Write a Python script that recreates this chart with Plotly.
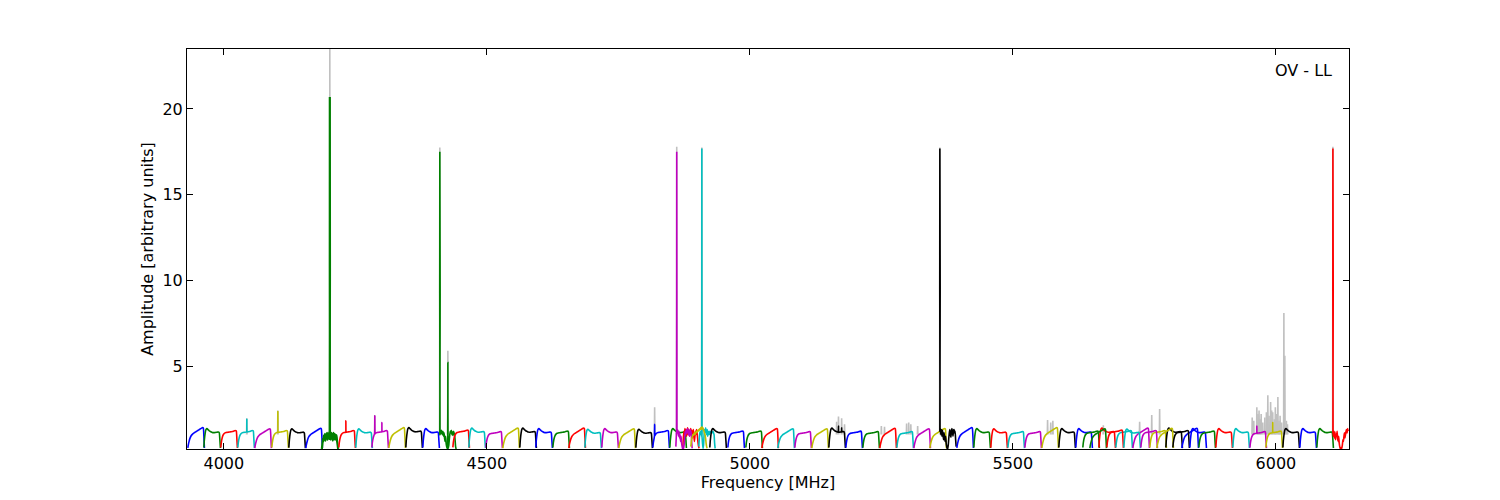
import plotly.graph_objects as go

# ---------------- data ----------------
# start frequency [MHz] of each subband, in plotting order (colours cycle b,g,r,c,m,y,k)
SUB_START = [3931.6, 3962.0, 3994.3, 4026.6, 4058.9, 4091.3, 4123.6, 4155.9, 4186.3, 4218.6,
             4250.9, 4281.4, 4313.7, 4346.0, 4378.3, 4410.6, 4435.4, 4465.8, 4498.1, 4530.4,
             4562.7, 4593.1, 4625.5, 4655.9, 4686.3, 4718.6, 4750.9, 4783.3, 4815.6, 4847.9,
             4872.6, 4903.0, 4859.3, 4887.8, 4923.9, 4958.2, 4992.4, 5022.8, 5053.2, 5085.5,
             5117.8, 5150.2, 5182.5, 5214.8, 5247.1, 5279.5, 5311.8, 5342.2, 5361.2, 5393.5,
             5425.8, 5458.1, 5490.5, 5522.8, 5555.1, 5587.4, 5619.7, 5633.0, 5663.5, 5695.8,
             5728.1, 5760.4, 5790.8, 5821.3, 5646.4, 5678.7, 5711.0, 5743.3, 5773.7, 5804.1,
             5836.5, 5853.6, 5885.9, 5918.2, 5950.6, 5981.0, 6013.3, 6045.6, 6077.9, 6108.4]

# bandpass shape per subband: 0 = rising to the right, 1 = flat, 2 = peak on the left, -1 = own values
SUB_SHAPE = [0, 2, 1, 1, 0, 1, 2, 0, -1, 1,
             2, 1, 0, 2, 2, -1, 1, 2, 1, 0,
             2, 2, 1, 0, 2, 2, 0, 2, 1, 2,
             -1, -1, -1, -1, 2, 1, 1, 0, 0, 1,
             0, 2, 1, 1, 0, 1, 0, 0, -1, 0,
             2, 2, 1, 1, 0, 2, 2, 1, 2, 1,
             0, 1, 2, 0, 0, 1, 2, 1, 0, 1,
             2, 1, 2, 2, 1, 1, 2, 2, 2, -1]

# level of each subband
SUB_SCALE = [1.0, 0.98, 1.0, 1.0, 0.95, 1.0, 0.97, 0.97, 1.0, 1.0,
             0.97, 1.0, 1.0, 1.02, 0.98, 1.0, 1.02, 1.0, 0.95, 0.98,
             1.0, 0.98, 0.98, 0.98, 0.95, 0.98, 0.95, 0.95, 1.0, 0.98,
             1.0, 1.0, 1.0, 1.0, 0.98, 0.98, 0.98, 0.96, 0.95, 0.95,
             0.95, 1.0, 0.97, 0.95, 0.97, 0.95, 0.95, 0.96, 1.0, 1.0,
             0.98, 0.97, 0.95, 0.95, 1.0, 0.98, 0.98, 0.98, 1.0, 1.0,
             0.98, 1.0, 1.0, 0.97, 0.95, 1.02, 0.96, 1.0, 0.97, 1.0,
             0.98, 0.98, 0.98, 0.98, 0.95, 0.98, 0.98, 0.98, 0.98, 1.0]

# generic bandpass templates (offsets in MHz from subband start)
TPL_OFFSET = [0, 1, 2.5, 4, 6, 8, 10, 12, 14, 16, 18, 20, 22, 24, 26, 28, 29.5, 30.5, 31.5]
SHAPE_RISE = [0.22, 0.42, 0.62, 0.78, 0.92, 1.0, 1.06, 1.1, 1.14, 1.18, 1.22, 1.26, 1.3, 1.34, 1.38, 1.41, 1.38, 0.9, 0.22]
SHAPE_FLAT = [0.25, 0.55, 0.8, 0.95, 1.05, 1.1, 1.12, 1.13, 1.14, 1.15, 1.16, 1.17, 1.18, 1.2, 1.22, 1.24, 1.2, 0.75, 0.22]
SHAPE_LEFT = [0.25, 0.7, 1.1, 1.32, 1.38, 1.32, 1.26, 1.21, 1.18, 1.15, 1.14, 1.14, 1.15, 1.16, 1.17, 1.18, 1.12, 0.7, 0.22]

# noisy subbands, 1 MHz channels from the subband start
NOISY_08 = [0.16, 0.4, 0.75, 0.6, 0.95, 0.7, 1.05, 0.65, 1.0, 0.8, 1.1, 0.7, 1.0, 0.85, 1.15, 0.75,
            1.05, 0.7, 1.1, 0.8, 1.0, 0.65, 1.1, 0.75, 1.05, 0.7, 1.0, 0.8, 0.95, 0.6, 0.4, 0.16]
NOISY_15 = [1.0, 1.2, 1.05, 1.25, 1.1, 1.0, 1.2, 0.9, 1.1, 0.8, 0.6, 0.9, 0.5, 0.3, 0.2, 0.25,
            0.2, 0.35, 0.7, 1.0, 1.2, 1.1, 1.25, 1.0, 1.15, 0.95, 1.2, 1.1, 1.0, 0.7, 0.3, 0.16]
NOISY_30 = [0.3, 0.8, 1.2, 1.0, 1.35, 1.1, 1.3, 0.9, 1.2, 1.4, 1.0, 1.3, 1.1, 0.9, 1.2, 1.35,
            1.0, 1.25, 0.8, 1.1, 1.3, 0.9, 0.6, 0.9, 1.2, 1.0, 1.3, 1.1, 0.8, 0.5, 0.3, 0.2]
NOISY_31 = [0.3, 0.8, 1.1, 1.2, 1.0, 1.1, 0.9, 0.5, 0.2, 0.4, 1.0, 1.3, 1.1, 1.4, 1.2, 1.0,
            1.3, 0.9, 1.2, 1.1, 1.0, 1.2, 1.15, 1.1, 1.2, 1.1, 1.15, 1.2, 1.1, 1.0, 0.5, 0.2]
NOISY_32 = [0.3, 1.0, 1.3, 1.1, 1.25, 0.9, 1.2, 0.8, 1.0, 0.6, 0.9, 0.5, 0.3, 0.16, 0.3, 0.2,
            0.5, 0.9, 1.2, 1.0, 1.3, 1.1, 1.2, 1.35, 1.0, 1.2, 0.9, 1.3, 1.1, 1.2, 0.6, 0.2]
NOISY_33 = [0.3, 0.6, 0.8, 0.9, 1.0, 0.95, 1.05, 1.1, 1.0, 1.15, 1.1, 1.2, 1.15, 1.25, 1.2, 1.3,
            1.25, 1.35, 1.3, 1.4, 1.3, 1.45, 1.35, 1.4, 1.3, 1.2, 1.1, 1.0, 0.8, 0.5, 0.3, 0.2]
NOISY_48 = [1.2, 1.35, 1.0, 1.3, 0.9, 1.25, 1.0, 0.7, 1.1, 0.8, 0.6, 0.9, 0.5, 0.3, 0.16, 0.2,
            0.4, 0.8, 1.1, 1.3, 1.0, 0.85, 1.2, 1.35, 1.1, 0.9, 1.25, 1.3, 1.1, 1.2, 0.7, 0.3]
NOISY_79 = [1.1, 0.9, 1.2, 0.8, 1.15, 0.7, 1.0, 0.9, 1.2, 0.75, 0.6, 0.9, 0.5, 0.3, 0.2, 0.16,
            0.25, 0.2, 0.4, 0.7, 0.6, 0.9, 1.1, 0.8, 1.0, 1.2, 1.3, 1.1, 1.35, 1.2]
NOISY = {8: NOISY_08, 15: NOISY_15, 30: NOISY_30, 31: NOISY_31, 32: NOISY_32,
         33: NOISY_33, 48: NOISY_48, 79: NOISY_79}

# spikes drawn in the subband colour: subband index, frequency [MHz], amplitude
SPIKE_SUB = [8, 15, 15, 32, 31, 48, 79, 3, 5, 9, 11, 11, 28, 41, 41, 74, 75]
SPIKE_FREQ = [4201.5, 4410.6, 4425.9, 4861.0, 4908.7, 5361.2, 6108.4, 4043.7, 4102.7, 4232.0,
              4287.0, 4300.5, 4819.0, 5168.5, 5174.5, 5963.8, 5994.0]
SPIKE_AMP = [20.7, 17.5, 5.2, 17.5, 17.7, 17.7, 17.7, 1.9, 2.35, 1.8,
             2.1, 1.7, 1.6, 1.5, 1.4, 1.5, 1.7]

# raw (grey) spikes behind the bandpass-corrected data
GREY_FREQ = [4043.7, 4102.7, 4201.5, 4287.0, 4410.6, 4425.9, 4819.0, 4861.0, 4908.7, 5165.0,
             5168.5, 5174.5, 5180.0, 5250.0, 5256.0, 5298.0, 5302.0, 5306.0, 5319.0, 5361.2,
             5566.0, 5572.0, 5576.0, 5672.0, 5741.0, 5764.0, 5779.0, 5955.0, 5958.0, 5963.8,
             5966.0, 5968.0, 5970.0, 5972.0, 5975.0, 5979.0, 5982.0, 5984.7, 5987.0, 5990.0,
             5992.0, 5994.0, 5997.0, 5999.0, 6001.0, 6003.8, 6006.0, 6008.0, 6011.0, 6015.2,
             6017.0, 6020.0, 6022.0, 6108.4]
GREY_AMP = [1.95, 2.4, 23.5, 2.15, 17.75, 5.9, 2.6, 17.8, 17.75, 1.75,
            2.05, 1.95, 1.6, 1.5, 1.45, 1.65, 1.7, 1.6, 1.5, 17.75,
            1.85, 1.7, 1.8, 1.55, 1.75, 2.15, 2.5, 2.0, 1.8, 2.6,
            2.2, 2.4, 1.9, 2.2, 1.7, 2.0, 2.3, 3.3, 2.1, 2.9,
            2.4, 2.3, 1.9, 2.6, 2.2, 3.2, 1.8, 2.1, 1.7, 8.1,
            5.6, 1.8, 1.6, 17.8]

COLORS = ["#0000ff", "#008000", "#ff0000", "#00bfbf", "#bf00bf", "#bfbf00", "#000000"]
GREY = "#c0c0c0"

X_RANGE = [3930, 6139]
Y_RANGE = [0.16, 23.5]

# ---------------- figure ----------------
fig = go.Figure()

# grey raw spikes
gx, gy = [], []
for f, a in zip(GREY_FREQ, GREY_AMP):
    gx += [f - 0.5, f, f + 0.5, None]
    gy += [1.0, a, 1.0, None]
fig.add_trace(go.Scatter(x=gx, y=gy, mode="lines", line=dict(color=GREY, width=1.6),
                         hoverinfo="skip", showlegend=False))

templates = {0: SHAPE_RISE, 1: SHAPE_FLAT, 2: SHAPE_LEFT}
for i, start in enumerate(SUB_START):
    if SUB_SHAPE[i] == -1:
        vals = NOISY[i]
        offs = list(range(len(vals)))
        pts = [(start + o, v) for o, v in zip(offs, vals)]
    else:
        tpl = templates[SUB_SHAPE[i]]
        pts = [(start + o, v * SUB_SCALE[i]) for o, v in zip(TPL_OFFSET, tpl)]
    for s, f, a in zip(SPIKE_SUB, SPIKE_FREQ, SPIKE_AMP):
        if s == i:
            base = min(pts, key=lambda p: abs(p[0] - f))[1]
            pts += [(f - 0.3, base), (f, a), (f + 0.3, base)]
    pts.sort(key=lambda p: p[0])
    width = 2.2 if i == 8 else 1.6
    fig.add_trace(go.Scatter(x=[p[0] for p in pts], y=[p[1] for p in pts], mode="lines",
                             line=dict(color=COLORS[i % 7], width=width, shape="spline", smoothing=0.4),
                             hoverinfo="skip", showlegend=False))

font = dict(family="DejaVu Sans", size=16, color="black")
axis_common = dict(showgrid=False, zeroline=False, showline=True, linecolor="black",
                   linewidth=1, mirror="ticks", ticks="inside", ticklen=6, tickwidth=1,
                   tickcolor="black", tickfont=font, automargin=False)

# the page body adds an 8 px offset, so the figure is 1492x492 inside the 1500x500 window
fig.update_layout(
    width=1492, height=492,
    margin=dict(l=179, r=151, t=41, b=51),
    paper_bgcolor="white", plot_bgcolor="white",
    font=font,
    showlegend=False,
    xaxis=dict(range=X_RANGE, dtick=500, tick0=4000,
               title=dict(text="Frequency [MHz]", font=font, standoff=1), **axis_common),
    yaxis=dict(range=Y_RANGE, tickvals=[5, 10, 15, 20],
               title=dict(text="Amplitude [arbitrary units]", font=font, standoff=4), **axis_common),
    annotations=[dict(text="OV - LL", xref="paper", yref="paper", x=0.987, y=0.9475,
                      xanchor="right", yanchor="middle", showarrow=False, font=font)],
)

fig.write_html("out.html")
